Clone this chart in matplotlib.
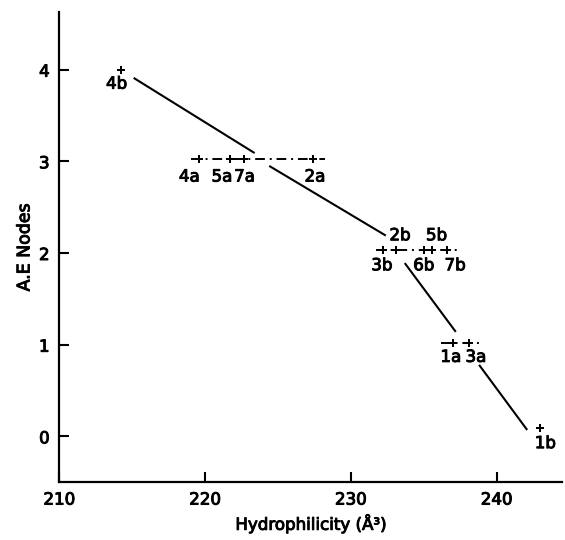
import matplotlib
matplotlib.use("Agg")
import matplotlib.pyplot as plt
import matplotlib.patheffects as pe

# Data points (hydrophilicity, A.E nodes, label)
hydro = [214.2, 219.6, 221.7, 222.7, 227.4, 232.2, 233.1, 235.0, 235.6, 236.6, 237.0, 238.1, 243.0]
nodes = [4.0, 3.02, 3.02, 3.02, 3.02, 2.03, 2.03, 2.03, 2.03, 2.03, 1.02, 1.02, 0.09]
names = ["4b", "4a", "5a", "7a", "2a", "3b", "2b", "6b", "5b", "7b", "1a", "3a", "1b"]
# label offsets in pixels (dx, dy)
label_dx = [-4, -10, -8, 0, 2, -1, 4, 0, 4, 8, -2, 7, 5]
label_dy = [-14, -17, -17, -17, -17, -15, 15, -15, 15, -15, -14, -14, -15]

# Trend line segments
seg_x = [(215.1, 223.4), (224.4, 232.4), (233.7, 237.2), (238.8, 242.1)]
seg_y = [(3.91, 3.09), (2.95, 2.19), (1.89, 1.14), (0.78, 0.07)]

# Dashed group lines (x start, x end, y)
grp_x = [(219.0, 228.2), (231.7, 237.5), (236.2, 238.9)]
grp_y = [3.02, 2.03, 1.02]

xticks = [210, 220, 230, 240]
yticks = [0, 1, 2, 3, 4]

thick = [pe.withStroke(linewidth=0.7, foreground='black')]

plt.rcParams['font.family'] = ['DejaVu Sans']
fig = plt.figure(figsize=(5.65, 5.4), dpi=100)
ax = fig.add_axes([0.105, 0.107, 0.89, 0.871])

for (x0, x1), yv in zip(grp_x, grp_y):
    ax.plot([x0, x1], [yv, yv], color='black', lw=1.4, linestyle=(0, (5, 2.5, 1, 2.5)))

for sx, sy in zip(seg_x, seg_y):
    ax.plot(sx, sy, color='black', lw=1.5, solid_capstyle='butt')

ax.plot(hydro, nodes, linestyle='none', marker='P', ms=6, color='black', mew=0)

for x, y, n, dx, dy in zip(hydro, nodes, names, label_dx, label_dy):
    ax.annotate(n, (x, y), xytext=(dx, dy), textcoords='offset pixels',
                ha='center', va='center', fontsize=12, path_effects=thick)

ax.set_xlim(210, 244.5)
ax.set_ylim(-0.5, 4.63)
ax.set_xticks(xticks)
ax.set_yticks(yticks)
ax.tick_params(direction='in', length=7, width=1.5, labelsize=12)
ax.tick_params(axis='y', pad=7)
ax.tick_params(axis='x', pad=6)
for lbl in ax.get_xticklabels() + ax.get_yticklabels():
    lbl.set_path_effects(thick)
for s in ['top', 'right']:
    ax.spines[s].set_visible(False)
for s in ['left', 'bottom']:
    ax.spines[s].set_linewidth(1.6)

xl = ax.set_xlabel("Hydrophilicity (Å³)", fontsize=12, labelpad=3)
yl = ax.set_ylabel("A.E Nodes", fontsize=12.5, labelpad=4)
xl.set_path_effects(thick)
yl.set_path_effects(thick)

fig.savefig("out.png", dpi=100)
